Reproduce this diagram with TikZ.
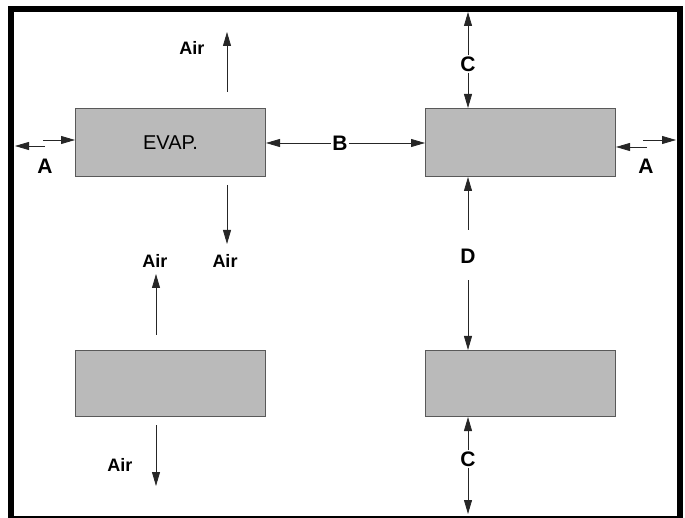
\documentclass[tikz,border=0pt]{standalone}
\usepackage{fontspec}
\setmainfont{Liberation Sans}
\usetikzlibrary{arrows.meta}
\begin{document}
\begin{tikzpicture}[x=1pt,y=-1pt,
  box/.style={draw=black!65, fill=black!27, line width=1pt, minimum width=190pt, minimum height=68pt, inner sep=0pt, anchor=north west},
  arr/.style={-{Triangle[length=14pt,width=8pt]}, line width=0.8pt, draw=black!85},
  lbl/.style={font=\bfseries\fontsize{21}{21}\selectfont, inner sep=1pt},
  air/.style={font=\bfseries\fontsize{18}{18}\selectfont, inner sep=1pt},
  evap/.style={font=\fontsize{20}{20}\selectfont}]
\useasboundingbox (0,0) rectangle (685,518);
\draw[line width=6pt] (11,9) rectangle (680,519);
% boxes
\node[box] (evap) at (75,108) {};
\node[evap] (evaplbl) at (evap.center) {EVAP.};
\node[box] (tr) at (425,108) {};
\node[box, minimum height=66pt] (bl) at (75,350) {};
\node[box, minimum height=66pt] (br) at (425,350) {};
% labels
\node[lbl] (Al) at (45,166) {A};
\node[lbl] (Ar) at (646,166) {A};
\node[lbl] (B) at (340,143) {B};
\node[lbl] (Ct) at (468,64) {C};
\node[lbl] (D) at (468,256) {D};
\node[lbl] (Cb) at (468,459) {C};
\node[air] (air1) at (192,48) {Air};
\node[air] (air2) at (225,261) {Air};
\node[air] (air3) at (155,261) {Air};
\node[air] (air4) at (120,465) {Air};
% coordinates
\coordinate (a1s) at (45,146); \coordinate (a1e) at (15,146);
\coordinate (a2s) at (43,140);
\coordinate (a3s) at (647,147);
\coordinate (a4s) at (643,140); \coordinate (a4e) at (676,140);
\coordinate (u1s) at (227,92); \coordinate (u1e) at (227,32);
\coordinate (d1s) at (227,185); \coordinate (d1e) at (227,244);
\coordinate (u2s) at (156,335); \coordinate (u2e) at (156,274);
\coordinate (d2s) at (156,425); \coordinate (d2e) at (156,486);
\coordinate (cte) at (468,12);
\coordinate (cbe) at (468,514);
% arrows
\draw[arr] (a1s) -- (a1e);
\draw[arr] (a2s) -- (a2s -| evap.west);
\draw[arr] (a3s) -- (a3s -| tr.east);
\draw[arr] (a4s) -- (a4e);
\draw[arr] (B.west) -- (B.west -| evap.east);
\draw[arr] (B.east) -- (B.east -| tr.west);
\draw[arr] (Ct.north) -- (cte);
\draw[arr] (Ct.south) -- (Ct.south |- tr.north);
\draw[arr] (D.north) ++(0,-18) -- (D.north |- tr.south);
\draw[arr] (D.south) ++(0,16) -- (D.south |- br.north);
\draw[arr] (Cb.north) -- (Cb.north |- br.south);
\draw[arr] (Cb.south) -- (cbe);
\draw[arr] (u1s) -- (u1e);
\draw[arr] (d1s) -- (d1e);
\draw[arr] (u2s) -- (u2e);
\draw[arr] (d2s) -- (d2e);
\end{tikzpicture}
\end{document}
